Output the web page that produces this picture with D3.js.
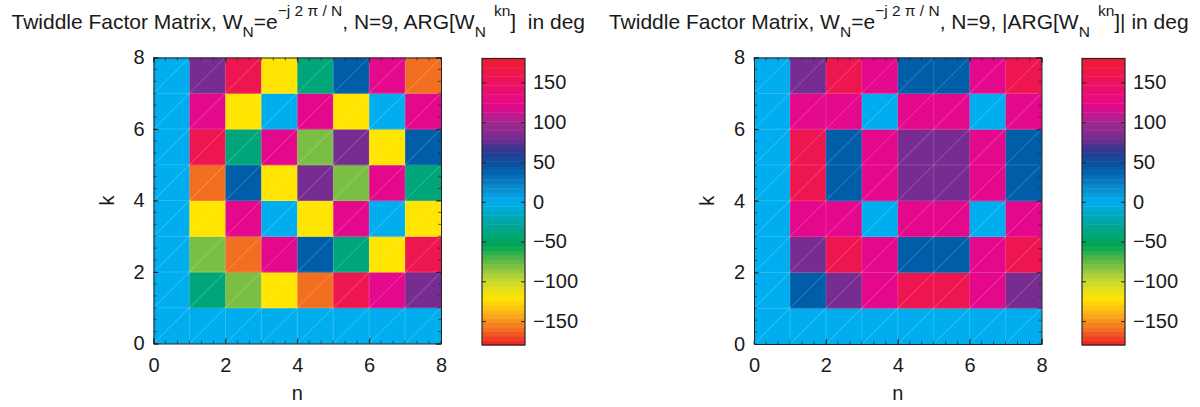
<!DOCTYPE html>
<html><head><meta charset="utf-8">
<script src="https://cdn.jsdelivr.net/npm/d3@7"></script>
<style>
body{margin:0;background:#fff;}
svg{display:block;font-family:"Liberation Sans",Arial,sans-serif;}
</style></head>
<body>
<svg id="c" width="1200" height="407"></svg>
<script>
// ---- data ----
const nTicks = [0, 2, 4, 6, 8];
const kTicks = [0, 2, 4, 6, 8];
const cbTicks = [-150, -100, -50, 0, 50, 100, 150];
const nEdges = [0, 1, 2, 3, 4, 5, 6, 7, 8];
const kEdges = [0, 1, 2, 3, 4, 5, 6, 7, 8];
// phase in degrees, rows k = 0..7, columns n = 0..7 (pcolor cells)
const argDeg = [
  [0, 0, 0, 0, 0, 0, 0, 0],
  [0, -40, -80, -120, -160, 160, 120, 80],
  [0, -80, -160, 120, 40, -40, -120, 160],
  [0, -120, 120, 0, -120, 120, 0, -120],
  [0, -160, 40, -120, 80, -80, 120, -40],
  [0, 160, -40, 120, -80, 80, -120, 40],
  [0, 120, -120, 0, 120, -120, 0, 120],
  [0, 80, 160, -120, -40, 40, 120, -160]
];
const absArgDeg = [
  [0, 0, 0, 0, 0, 0, 0, 0],
  [0, 40, 80, 120, 160, 160, 120, 80],
  [0, 80, 160, 120, 40, 40, 120, 160],
  [0, 120, 120, 0, 120, 120, 0, 120],
  [0, 160, 40, 120, 80, 80, 120, 40],
  [0, 160, 40, 120, 80, 80, 120, 40],
  [0, 120, 120, 0, 120, 120, 0, 120],
  [0, 80, 160, 120, 40, 40, 120, 160]
];
// colormap anchors
const cmapStops = [-180, -160, -140, -120, -100, -80, -55, -40, -20, 0, 20, 40, 50, 65, 80, 100, 120, 140, 160, 180];
const cmapColors = ["#ed1c24", "#f26f21", "#fbb316", "#ffe500", "#c8d92e", "#7abf43", "#00a651", "#00a57a", "#00a8b5", "#00aeef",
  "#0a86cc", "#005da8", "#0c4fa0", "#33368f", "#762c90", "#a1278f", "#e4088c", "#ec0e72", "#ee1651", "#ed1c2e"];

const titlesText = [
  {pre: "Twiddle Factor Matrix, W", tail1: "=e", sup1: "\u2212j 2 \u03c0 / N", mid: ", N=9, ARG[W", sup2: "kn", post: "]\u00a0 in deg"},
  {pre: "Twiddle Factor Matrix, W", tail1: "=e", sup1: "\u2212j 2 \u03c0 / N", mid: ", N=9, |ARG[W", sup2: "kn", post: "]| in deg"}
];

const svg = d3.select("#c");
const color = d3.scaleLinear().domain(cmapStops).range(cmapColors).interpolate(d3.interpolateRgb).clamp(true);
const fmt = d => (d < 0 ? "\u2212" + Math.abs(d) : "" + d);
const axisCol = "#262626";
const FS = "20px";

const panels = [
  {data: argDeg, x0: 153.5, x1: 441, y0: 343.5, y1: 57.5, cbx: 482, cbw: 43, title: titlesText[0]},
  {data: absArgDeg, x0: 754, x1: 1041.5, y0: 344, y1: 57.5, cbx: 1082, cbw: 43, title: titlesText[1]}
];

panels.forEach(p => {
  const g = svg.append("g");
  const x = d3.scaleLinear().domain([0, 8]).range([p.x0, p.x1]);
  const y = d3.scaleLinear().domain([0, 8]).range([p.y0, p.y1]);
  const cells = [];
  p.data.forEach((row, k) => row.forEach((v, n) => cells.push({n, k, v})));
  g.selectAll("rect.cell").data(cells).enter().append("rect")
    .attr("x", d => x(nEdges[d.n])).attr("y", d => y(kEdges[d.k + 1]))
    .attr("width", d => x(nEdges[d.n + 1]) - x(nEdges[d.n]) + 0.5)
    .attr("height", d => y(kEdges[d.k]) - y(kEdges[d.k + 1]) + 0.5)
    .attr("fill", d => color(d.v));
  // faint diagonal (triangulation) lines
  g.selectAll("line.diag").data(cells).enter().append("line")
    .attr("x1", d => x(nEdges[d.n])).attr("y1", d => y(kEdges[d.k]))
    .attr("x2", d => x(nEdges[d.n + 1])).attr("y2", d => y(kEdges[d.k + 1]))
    .attr("stroke", "#fff").attr("stroke-opacity", 0.35).attr("stroke-width", 0.7);
  // faint cell borders
  nEdges.slice(1, -1).forEach(e => g.append("line").attr("x1", x(e)).attr("x2", x(e)).attr("y1", p.y0).attr("y2", p.y1)
    .attr("stroke", "#fff").attr("stroke-opacity", 0.2).attr("stroke-width", 0.8));
  kEdges.slice(1, -1).forEach(e => g.append("line").attr("y1", y(e)).attr("y2", y(e)).attr("x1", p.x0).attr("x2", p.x1)
    .attr("stroke", "#fff").attr("stroke-opacity", 0.2).attr("stroke-width", 0.8));

  // minor ticks every 1/3 unit
  const minor = d3.range(0, 8.001, 1 / 3);
  minor.forEach(t => {
    g.append("line").attr("x1", x(t)).attr("x2", x(t)).attr("y1", p.y0).attr("y2", p.y0 - 3).attr("stroke", axisCol).attr("stroke-width", 0.7);
    g.append("line").attr("x1", x(t)).attr("x2", x(t)).attr("y1", p.y1).attr("y2", p.y1 + 3).attr("stroke", axisCol).attr("stroke-width", 0.7);
    g.append("line").attr("y1", y(t)).attr("y2", y(t)).attr("x1", p.x0).attr("x2", p.x0 + 3).attr("stroke", axisCol).attr("stroke-width", 0.7);
    g.append("line").attr("y1", y(t)).attr("y2", y(t)).attr("x1", p.x1).attr("x2", p.x1 - 3).attr("stroke", axisCol).attr("stroke-width", 0.7);
  });
  // axes via d3 (major ticks inward)
  const xa = g.append("g").attr("transform", `translate(0,${p.y0})`)
    .call(d3.axisBottom(x).tickValues(nTicks).tickSize(-5).tickPadding(14).tickFormat(fmt));
  const ya = g.append("g").attr("transform", `translate(${p.x0},0)`)
    .call(d3.axisLeft(y).tickValues(kTicks).tickSize(-5).tickPadding(9).tickFormat(fmt));
  const xt = g.append("g").attr("transform", `translate(0,${p.y1})`)
    .call(d3.axisTop(x).tickValues(nTicks).tickSize(-5).tickFormat(""));
  const yr = g.append("g").attr("transform", `translate(${p.x1},0)`)
    .call(d3.axisRight(y).tickValues(kTicks).tickSize(-5).tickFormat(""));
  [xa, ya, xt, yr].forEach(a => {
    a.select(".domain").attr("stroke", axisCol).attr("stroke-width", 1);
    a.selectAll(".tick line").attr("stroke", axisCol);
    a.selectAll("text").attr("fill", "#1a1a1a").style("font-size", FS).style("font-family", "Liberation Sans, Arial, sans-serif");
  });
  xa.selectAll("text").attr("dy", 0).attr("y", 372 - p.y0);
  // axis labels
  g.append("text").attr("x", (p.x0 + p.x1) / 2).attr("y", 400).attr("text-anchor", "middle")
    .style("font-size", FS).attr("fill", "#1a1a1a").text("n");
  g.append("text").attr("transform", `translate(${p.x0 - 40},${(p.y0 + p.y1) / 2}) rotate(-90)`).attr("text-anchor", "middle")
    .style("font-size", FS).attr("fill", "#1a1a1a").text("k");

  // colorbar
  const cy = d3.scaleLinear().domain([-180, 180]).range([345, 58.5]);
  const nLev = 64;
  const levels = d3.range(nLev).map(i => -180 + (i + 0.5) * 360 / nLev);
  g.selectAll("rect.cb").data(levels).enter().append("rect")
    .attr("x", p.cbx).attr("width", p.cbw)
    .attr("y", d => cy(d + 180 / nLev)).attr("height", d => cy(d - 180 / nLev) - cy(d + 180 / nLev) + 0.4)
    .attr("fill", d => color(d));
  const ca = g.append("g").attr("transform", `translate(${p.cbx + p.cbw},0)`)
    .call(d3.axisRight(cy).tickValues(cbTicks).tickSize(-4).tickPadding(8).tickFormat(fmt));
  const cl = g.append("g").attr("transform", `translate(${p.cbx},0)`)
    .call(d3.axisLeft(cy).tickValues(cbTicks).tickSize(-4).tickFormat(""));
  [ca, cl].forEach(a => {
    a.select(".domain").remove();
    a.selectAll(".tick line").attr("stroke", axisCol);
    a.selectAll("text").attr("fill", "#1a1a1a").style("font-size", FS).style("font-family", "Liberation Sans, Arial, sans-serif");
  });
  g.append("rect").attr("x", p.cbx).attr("y", cy(180)).attr("width", p.cbw).attr("height", cy(-180) - cy(180))
    .attr("fill", "none").attr("stroke", axisCol).attr("stroke-width", 1.2);

  // title
  const t = p.title;
  const tt = g.append("text").attr("x", (p.x0 + p.x1) / 2 + 1).attr("y", 29).attr("text-anchor", "middle")
    .style("font-size", "21px").attr("fill", "#1a1a1a");
  tt.append("tspan").text(t.pre);
  tt.append("tspan").attr("dy", 8).style("font-size", "15.5px").text("N");
  tt.append("tspan").attr("dy", -8).text(t.tail1);
  tt.append("tspan").attr("dy", -13).style("font-size", "15.5px").text(t.sup1);
  tt.append("tspan").attr("dy", 13).text(t.mid);
  tt.append("tspan").attr("dy", 8).style("font-size", "15.5px").text("N");
  tt.append("tspan").attr("dy", -21).attr("dx", 8).style("font-size", "15.5px").text(t.sup2);
  tt.append("tspan").attr("dy", 13).text(t.post);
});
</script>
</body></html>
